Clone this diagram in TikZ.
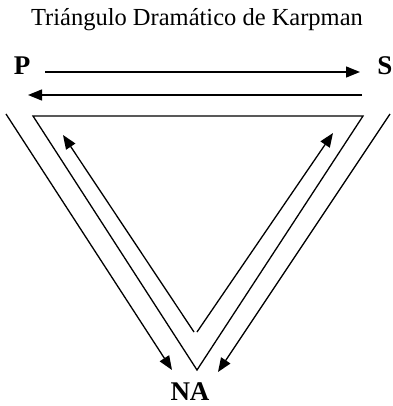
\documentclass[tikz,border=0pt]{standalone}
\usepackage{fontspec}
\setmainfont{Liberation Serif}
\usetikzlibrary{arrows.meta}

\begin{document}
\begin{tikzpicture}[
    x=1pt, y=-1pt,
    role/.style={font=\bfseries\fontsize{27}{27}\selectfont, inner sep=0pt},
    line/.style={-{Triangle[length=14pt,width=11pt]}, line width=1.3pt},
    edge/.style={line width=1.3pt, line join=miter}
]
\useasboundingbox (0,0) rectangle (392,406);

\node[font=\fontsize{24.5}{24.5}\selectfont] (title) at (197,20) {Triángulo Dramático de Karpman};
\node[role] (p) at (22,66) {P};
\node[role] (s) at (385,66) {S};
\node[role] (na) at (190,392) {NA};

% end points of the arrows
\coordinate (ps-a) at (45,72);
\coordinate (ps-b) at (360,72);
\coordinate (sp-a) at (362,95);
\coordinate (sp-b) at (28,95);
\coordinate (pn-a) at (6,114);
\coordinate (pn-b) at (172,370);
\coordinate (sn-a) at (390,114);
\coordinate (sn-b) at (218,372);
\coordinate (np-a) at (194,332);
\coordinate (np-b) at (63,135);
\coordinate (ns-a) at (197,332);
\coordinate (ns-b) at (333,133);

% triangle
\coordinate (tl) at (33,116);
\coordinate (tr) at (363,116);
\coordinate (tb) at (197,370);
\draw[edge] (tl) -- (tr) -- (tb) -- cycle;

\draw[line] (ps-a) -- (ps-b);
\draw[line] (sp-a) -- (sp-b);
\draw[line] (pn-a) -- (pn-b);
\draw[line] (sn-a) -- (sn-b);
\draw[line] (np-a) -- (np-b);
\draw[line] (ns-a) -- (ns-b);
\end{tikzpicture}
\end{document}
